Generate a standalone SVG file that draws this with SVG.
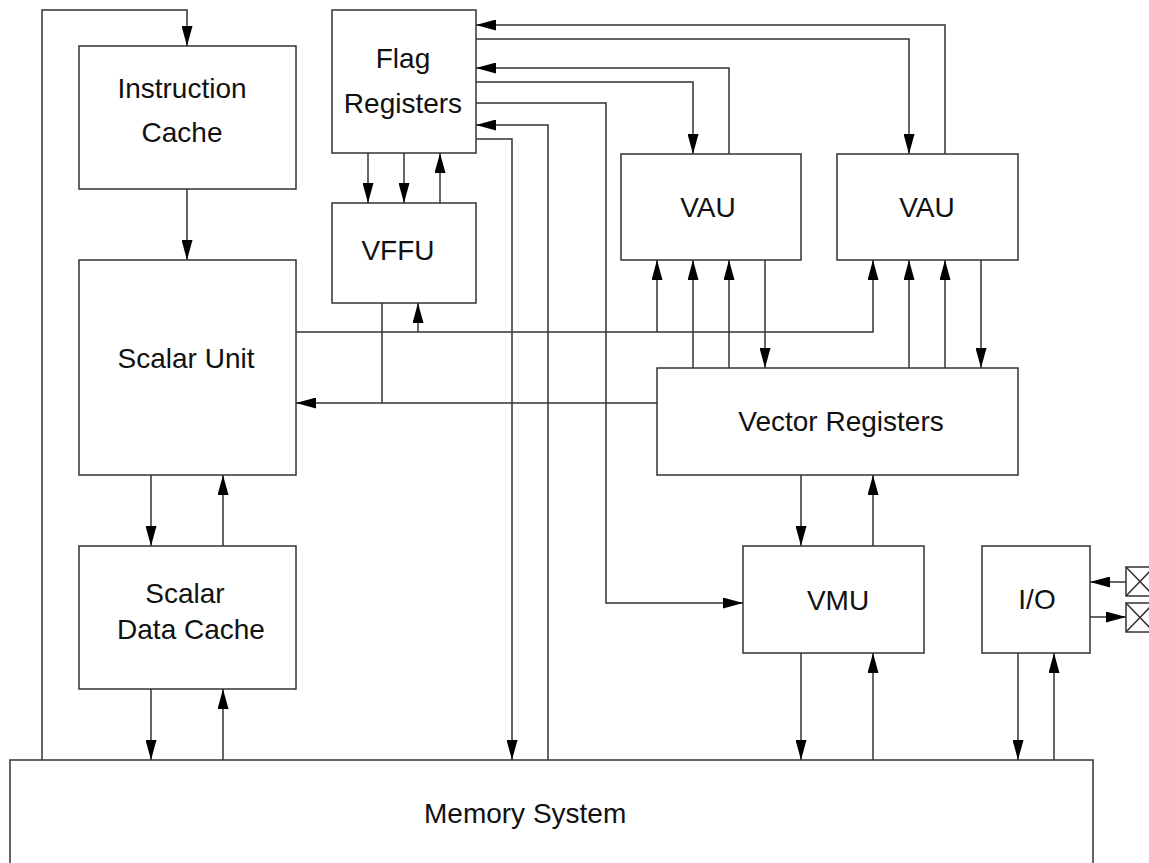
<svg xmlns="http://www.w3.org/2000/svg" width="1149" height="863" viewBox="0 0 1149 863">
  <style>
    .box { fill: #ffffff; stroke: #333333; stroke-width: 1.5; }
    .wire { fill: none; stroke: #333333; stroke-width: 1.5; }
    .arr { marker-end: url(#head); }
    .lbl { font-family: "Liberation Sans", Arial, Helvetica, sans-serif; font-size: 28px; fill: #111111; text-anchor: middle; }
  </style>
  <defs>
    <marker id="head" markerUnits="userSpaceOnUse" markerWidth="20" markerHeight="11" refX="20" refY="5.5" orient="auto">
      <path d="M0,0 L20,5.5 L0,11 z" fill="#000000"/>
    </marker>
  </defs>
  <rect width="1149" height="863" fill="#ffffff"/>

  <!-- Memory system (bottom extends past the frame) -->
  <g id="memory-system">
    <rect class="box" x="10" y="760" width="1083" height="130"/>
    <text class="lbl" x="424" y="823" style="text-anchor:start">Memory System</text>
  </g>

  <g id="instruction-cache">
    <rect class="box" x="79" y="46" width="217" height="143"/>
    <text class="lbl" x="182" y="98">Instruction</text>
    <text class="lbl" x="182" y="142">Cache</text>
  </g>

  <g id="scalar-unit">
    <rect class="box" x="79" y="260" width="217" height="215"/>
    <text class="lbl" x="186" y="368">Scalar Unit</text>
  </g>

  <g id="scalar-data-cache">
    <rect class="box" x="79" y="546" width="217" height="143"/>
    <text class="lbl" x="185" y="603">Scalar</text>
    <text class="lbl" x="191" y="639">Data Cache</text>
  </g>

  <g id="flag-registers">
    <rect class="box" x="332" y="10" width="144" height="143"/>
    <text class="lbl" x="403" y="68">Flag</text>
    <text class="lbl" x="403" y="113">Registers</text>
  </g>

  <g id="vffu">
    <rect class="box" x="332" y="203" width="144" height="100"/>
    <text class="lbl" x="398" y="260">VFFU</text>
  </g>

  <g id="vau-1">
    <rect class="box" x="621" y="154" width="180" height="106"/>
    <text class="lbl" x="708" y="217">VAU</text>
  </g>

  <g id="vau-2">
    <rect class="box" x="837" y="154" width="181" height="106"/>
    <text class="lbl" x="927" y="217">VAU</text>
  </g>

  <g id="vector-registers">
    <rect class="box" x="657" y="368" width="361" height="107"/>
    <text class="lbl" x="841" y="431">Vector Registers</text>
  </g>

  <g id="vmu">
    <rect class="box" x="743" y="546" width="181" height="107"/>
    <text class="lbl" x="838" y="610">VMU</text>
  </g>

  <g id="io">
    <rect class="box" x="982" y="546" width="108" height="107"/>
    <text class="lbl" x="1037" y="609">I/O</text>
  </g>

  <!-- external pads -->
  <g id="pad-in">
    <rect class="box" x="1126" y="567" width="28" height="29"/>
    <path class="wire" d="M1126,567 L1154,596 M1126,596 L1154,567"/>
  </g>
  <g id="pad-out">
    <rect class="box" x="1126" y="603" width="28" height="29"/>
    <path class="wire" d="M1126,603 L1154,632 M1126,632 L1154,603"/>
  </g>

  <g id="connectors">
    <!-- instruction fetch loop from memory -->
    <path class="wire arr" d="M42,760 V10 H187 V46"/>
    <path class="wire arr" d="M187,189 V260"/>

    <!-- scalar unit / data cache / memory -->
    <path class="wire arr" d="M151,475 V546"/>
    <path class="wire arr" d="M223,546 V475"/>
    <path class="wire arr" d="M151,689 V760"/>
    <path class="wire arr" d="M223,760 V689"/>

    <!-- flag registers and VFFU -->
    <path class="wire arr" d="M368,153 V203"/>
    <path class="wire arr" d="M404,153 V203"/>
    <path class="wire arr" d="M440,203 V153"/>

    <!-- scalar operand bus to VFFU and VAUs -->
    <path class="wire arr" d="M296,332 H873 V260"/>
    <path class="wire arr" d="M418,332 V303"/>
    <path class="wire arr" d="M657,332 V260"/>

    <!-- results back to scalar unit -->
    <path class="wire arr" d="M657,403 H296"/>
    <path class="wire" d="M382,303 V403"/>

    <!-- vector registers and VAUs -->
    <path class="wire arr" d="M693,368 V260"/>
    <path class="wire arr" d="M729,368 V260"/>
    <path class="wire arr" d="M765,260 V368"/>
    <path class="wire arr" d="M909,368 V260"/>
    <path class="wire arr" d="M945,368 V260"/>
    <path class="wire arr" d="M981,260 V368"/>

    <!-- flag register links -->
    <path class="wire arr" d="M945,154 V25 H476"/>
    <path class="wire arr" d="M476,39 H909 V154"/>
    <path class="wire arr" d="M729,154 V68 H476"/>
    <path class="wire arr" d="M476,82 H693 V154"/>
    <path class="wire arr" d="M476,103 H606 V603 H743"/>
    <path class="wire arr" d="M548,760 V125 H476"/>
    <path class="wire arr" d="M476,139 H512 V760"/>

    <!-- vector memory unit -->
    <path class="wire arr" d="M801,475 V546"/>
    <path class="wire arr" d="M873,546 V475"/>
    <path class="wire arr" d="M801,653 V760"/>
    <path class="wire arr" d="M873,760 V653"/>

    <!-- I/O -->
    <path class="wire arr" d="M1018,653 V760"/>
    <path class="wire arr" d="M1054,760 V653"/>
    <path class="wire arr" d="M1126,582 H1090"/>
    <path class="wire arr" d="M1090,617 H1126"/>
  </g>
</svg>
